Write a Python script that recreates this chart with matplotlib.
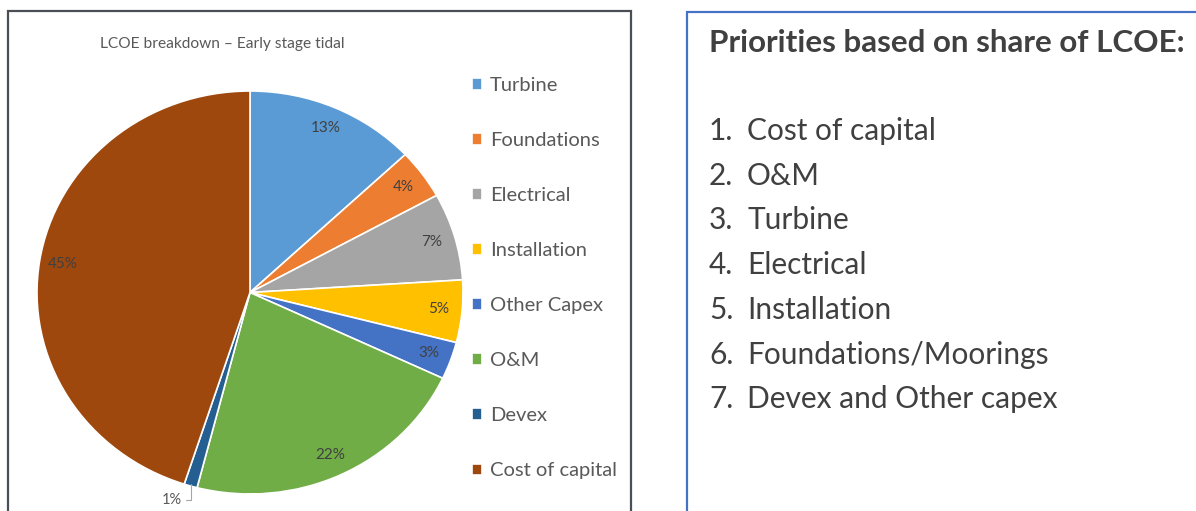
import matplotlib
matplotlib.use("Agg")
import matplotlib.pyplot as plt
from matplotlib.patches import Rectangle
import numpy as np

plt.rcParams['font.family'] = ['Lato', 'DejaVu Sans']

categories = ['Turbine', 'Foundations', 'Electrical', 'Installation',
              'Other Capex', 'O&M', 'Devex', 'Cost of capital']
shares = [13, 4, 7, 5, 3, 22, 1, 45]
colors = ['#5B9BD5', '#ED7D31', '#A5A5A5', '#FFC000',
          '#4472C4', '#70AD47', '#255E91', '#9E480E']
priorities = ['Cost of capital', 'O&M', 'Turbine', 'Electrical',
              'Installation', 'Foundations/Moorings', 'Devex and Other capex']

W, H = 1196, 511
fig = plt.figure(figsize=(W / 100, H / 100), dpi=100)
fig.patch.set_facecolor('white')

# panel borders
fig.patches.append(Rectangle((8 / W, -0.05), 623 / W, 1.05 - 11 / H,
                             transform=fig.transFigure, fill=False,
                             edgecolor='#4a4f55', linewidth=1.6))
fig.patches.append(Rectangle((687 / W, -0.05), 0.5, 1.05 - 12 / H,
                             transform=fig.transFigure, fill=False,
                             edgecolor='#4472C4', linewidth=1.6))

# pie
ax = fig.add_axes([37 / W, (H - 494) / H, 426 / W, 403 / H])
wedges, _ = ax.pie(shares, colors=colors, startangle=90, counterclock=False,
                   wedgeprops=dict(edgecolor='white', linewidth=1.2))
ax.set_aspect('auto')
ax.set_xlim(-1, 1)
ax.set_ylim(-1, 1)
ax.axis('off')

total = sum(shares)
start = 90.0
for name, v in zip(categories, shares):
    mid = np.radians(start - v / total * 180)
    start -= v / total * 360
    if v < 2:
        ax.annotate(f'{v}%', xy=(1.0 * np.cos(mid), 0.99 * np.sin(mid)),
                    xytext=(-0.365, -1.03), ha='center', va='center',
                    fontsize=10.5, color='#595959', annotation_clip=False,
                    arrowprops=dict(arrowstyle='-', color='#a6a6a6', lw=0.8,
                                    shrinkA=1, shrinkB=0,
                                    connectionstyle='angle,angleA=0,angleB=90,rad=0'))
        continue
    ax.text(0.89 * np.cos(mid), 0.89 * np.sin(mid), f'{v}%', ha='center',
            va='center', fontsize=11, color='#404040')

fig.text(222 / W, 1 - 44 / H, 'LCOE breakdown \u2013 Early stage tidal',
         ha='center', va='center', fontsize=11.2, color='#595959')

fig.legend(wedges, categories, loc='upper left',
           bbox_to_anchor=(472 / W, 1 - 77 / H), frameon=False,
           fontsize=14.5, labelcolor='#595959', handlelength=0.5,
           handleheight=0.5, handletextpad=0.4, labelspacing=1.89,
           borderpad=0, borderaxespad=0)

# right panel
fig.text(709 / W, 1 - 43 / H, 'Priorities based on share of LCOE:',
         ha='left', va='center', fontsize=22.6, fontweight='bold',
         color='#404040')
for i, item in enumerate(priorities):
    y = 1 - (131 + i * 44.7) / H
    fig.text(709 / W, y, f'{i + 1}.', ha='left', va='center',
             fontsize=21.5, color='#404040')
    fig.text(747 / W, y, item, ha='left', va='center',
             fontsize=21.5, color='#404040')

fig.savefig('out.png', dpi=100)
